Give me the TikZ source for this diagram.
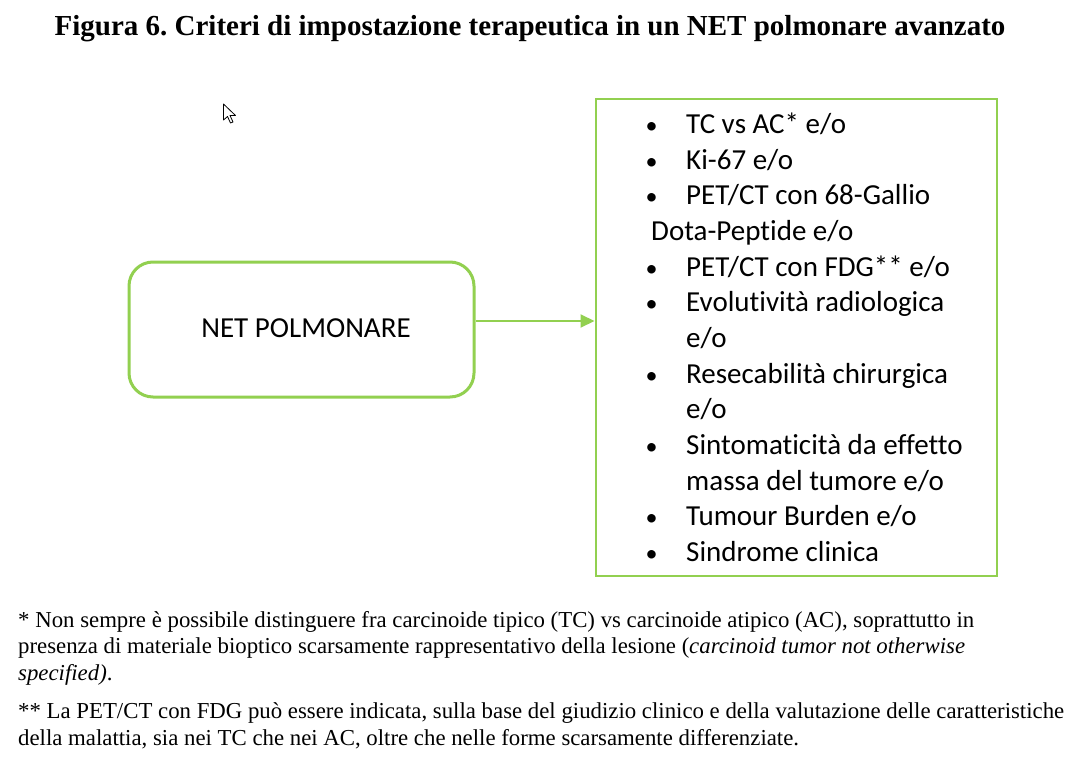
\documentclass[tikz,border=0pt]{standalone}
\usepackage{fontspec}
\setmainfont{Liberation Serif}
\newfontfamily\calib[Ligatures={NoCommon,NoRequired,NoContextual}]{Carlito}
\usetikzlibrary{arrows.meta}
\definecolor{netgreen}{RGB}{146,208,80}
\tikzset{
  boxtext/.style={font=\calib\fontsize{29}{33}\selectfont, inner sep=0pt, anchor=base west},
  bulletmark/.style={font=\calib\fontsize{24}{30}\selectfont, inner sep=0pt, anchor=base},
  notetext/.style={font=\fontsize{22.8}{27}\selectfont, inner sep=0pt, anchor=base west},
}
\begin{document}
\frenchspacing
\begin{tikzpicture}[x=1pt,y=-1pt]
\useasboundingbox[fill=white] (0,0) rectangle (1067,771);
% title
\node[font=\bfseries\fontsize{29}{34}\selectfont, inner sep=0pt, anchor=base] (title) at (530,35) {Figura 6. Criteri di impostazione terapeutica in un NET polmonare avanzato};
% cursor
\draw[black, line width=0.8pt, fill=white, line join=round] (223.5,104) -- (223.5,120) -- (227.5,116.5) -- (230.5,123) -- (233,122) -- (230,115.5) -- (235.5,115.5) -- cycle;
% left box
\draw[netgreen, line width=3pt, rounded corners=24pt] (129,262) rectangle (474,397);
\node[font=\calib\fontsize{29}{33}\selectfont, inner sep=0pt, anchor=base] (net) at (306,337.7) {NET POLMONARE};
\coordinate (netE) at (476,321);
% right box
\draw[netgreen, line width=2pt] (595.5,98.5) rectangle (997,576);
\coordinate (listW) at (594.5,321);
\draw[netgreen, line width=2pt, -{Triangle[length=14pt,width=13pt]}] (netE) -- (listW);
% list
\foreach \i/\t in {0/{TC vs AC* e/o},1/{Ki-67 e/o},2/{PET/CT con 68-Gallio},4/{PET/CT con FDG** e/o},5/{Evolutività radiologica},6/{e/o},7/{Resecabilità chirurgica},8/{e/o},9/{Sintomaticità da effetto},10/{massa del tumore e/o},11/{Tumour Burden e/o},12/{Sindrome clinica}}{
  \node[boxtext] (l\i) at (686,133.7+35.63*\i) {\t};
}
\node[boxtext] (l3) at (651,133.7+35.63*3) {Dota-Peptide e/o};
\foreach \i in {0,1,2,4,5,7,9,11,12}{
  \node[bulletmark] (b\i) at (651.5,133.7+35.63*\i) {•};
}
% footnotes
\node[notetext] (n1) at (18,627) {* Non sempre è possibile distinguere fra carcinoide tipico (TC) vs carcinoide atipico (AC), soprattutto in};
\node[notetext] (n2) at (18,653.5) {presenza di materiale bioptico scarsamente rappresentativo della lesione (\textit{carcinoid tumor not otherwise}};
\node[notetext] (n3) at (18,680) {\textit{specified)}.};
\node[notetext] (n4) at (18,718.5) {** La PET/CT con FDG può essere indicata, sulla base del giudizio clinico e della valutazione delle caratteristiche};
\node[notetext] (n5) at (18,745.5) {della malattia, sia nei TC che nei AC, oltre che nelle forme scarsamente differenziate.};
\end{tikzpicture}
\end{document}
